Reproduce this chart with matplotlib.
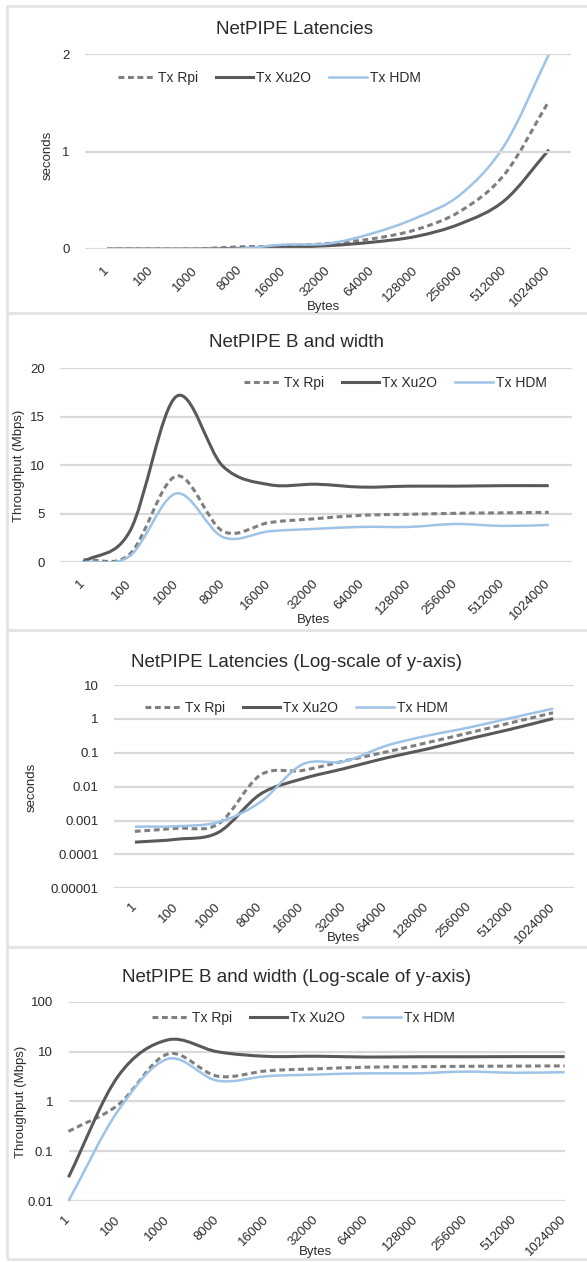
import numpy as np
import matplotlib
matplotlib.use("Agg")
import matplotlib.pyplot as plt
from matplotlib.path import Path
from matplotlib.patches import PathPatch, Rectangle
from matplotlib.lines import Line2D

plt.rcParams['font.family'] = ['Liberation Sans', 'DejaVu Sans']

# message sizes (category axis)
categories = ['1', '100', '1000', '8000', '16000', '32000', '64000',
              '128000', '256000', '512000', '1024000']

# latency in seconds
lat_rpi = [0.00048, 0.00059, 0.0008, 0.022, 0.03, 0.057, 0.105, 0.2, 0.39, 0.77, 1.52]
lat_xu2o = [0.00023, 0.00028, 0.00045, 0.006, 0.017, 0.034, 0.07, 0.13, 0.26, 0.5, 1.02]
lat_hdm = [0.00066, 0.00068, 0.0009, 0.0035, 0.045, 0.055, 0.16, 0.32, 0.56, 1.07, 2.0]

# throughput in Mbps
bw_rpi = [0.25, 0.85, 8.9, 3.2, 4.1, 4.5, 4.85, 4.95, 5.05, 5.1, 5.15]
bw_xu2o = [0.03, 3.2, 17.1, 9.9, 8.0, 8.05, 7.75, 7.85, 7.85, 7.9, 7.9]
bw_hdm = [0.01, 0.65, 7.1, 2.6, 3.2, 3.45, 3.65, 3.65, 3.95, 3.75, 3.85]

series_names = ['Tx Rpi', 'Tx Xu2O', 'Tx HDM']
colors = ['#7f7f7f', '#595959', '#9dc3e6']
widths = [2.2, 2.2, 1.8]
styles = [(0, (1.9, 1.2)), '-', '-']

W, H = 587, 1262
TXT = '#2b2b2b'


def box(l, t, r, b):
    return [l / W, 1 - b / H, (r - l) / W, (b - t) / H]


def smooth_path(ys, logy):
    # Excel-like smoothed line: cubic Bezier through the points (Catmull-Rom tangents)
    x = np.arange(len(ys), dtype=float)
    v = np.log10(ys) if logy else np.asarray(ys, float)
    t = np.empty_like(v)
    t[1:-1] = (v[2:] - v[:-2]) / 2
    t[0] = v[1] - v[0]
    t[-1] = v[-1] - v[-2]
    verts = [(x[0], v[0])]
    codes = [Path.MOVETO]
    for i in range(len(x) - 1):
        verts += [(x[i] + 1 / 3, v[i] + t[i] / 3),
                  (x[i + 1] - 1 / 3, v[i + 1] - t[i + 1] / 3),
                  (x[i + 1], v[i + 1])]
        codes += [Path.CURVE4] * 3
    verts = np.array(verts)
    if logy:
        verts[:, 1] = 10 ** verts[:, 1]
    return Path(verts, codes)


fig = plt.figure(figsize=(W / 100, H / 100), dpi=100)

# panel frames
for top, bot in [(6, 313), (313, 630), (630, 947), (947, 1259)]:
    fig.patches.append(Rectangle((7 / W, 1 - bot / H), 1.2, (bot - top) / H,
                                 transform=fig.transFigure, fill=False,
                                 edgecolor='#e4e4e4', lw=2))

panels = [
    dict(rect=box(85, 54.3, 571, 249), data=[lat_rpi, lat_xu2o, lat_hdm], log=False,
         xlim=(-0.5, 10.5), ylim=(0, 2), yticks=[0, 1, 2], ylabels=['0', '1', '2'],
         title='NetPIPE Latencies', tpos=(295, 30), ylab='seconds', ypos=(48, 155),
         xpos=(324, 307), leg=(269, 78), pad=14, grid_above=True),
    dict(rect=box(60, 368.3, 572, 562.3), data=[bw_rpi, bw_xu2o, bw_hdm], log=False,
         xlim=(-0.5, 10.5), ylim=(0, 20), yticks=[0, 5, 10, 15, 20],
         ylabels=['0', '5', '10', '15', '20'],
         title='NetPIPE B and width', tpos=(297, 342), ylab='Throughput (Mbps)',
         ypos=(19.5, 466), xpos=(313, 620), leg=(395, 383), pad=14, grid_above=False),
    dict(rect=box(114, 685, 574, 888.3), data=[lat_rpi, lat_xu2o, lat_hdm], log=True,
         xlim=(-0.5, 10.5), ylim=(1e-5, 10), yticks=[1e-5, 1e-4, 1e-3, 1e-2, 0.1, 1, 10],
         ylabels=['0.00001', '0.0001', '0.001', '0.01', '0.1', '1', '10'],
         title='NetPIPE Latencies (Log-scale of y-axis)', tpos=(297, 663), ylab='seconds',
         ypos=(32, 787), xpos=(344, 938), leg=(296, 708), pad=12, grid_above=False),
    dict(rect=box(68.5, 1001.7, 564.6, 1201), data=[bw_rpi, bw_xu2o, bw_hdm], log=True,
         xlim=(0, 10), ylim=(0.01, 100), yticks=[0.01, 0.1, 1, 10, 100],
         ylabels=['0.01', '0.1', '1', '10', '100'],
         title='NetPIPE B and width (Log-scale of y-axis)', tpos=(297, 978),
         ylab='Throughput (Mbps)', ypos=(20.6, 1102), xpos=(316, 1252), leg=(303, 1018),
         pad=12, grid_above=False),
]

for p in panels:
    ax = fig.add_axes(p['rect'])
    if p['log']:
        ax.set_yscale('log')
    ax.set_xlim(*p['xlim'])
    ax.set_ylim(*p['ylim'])
    for s in ax.spines.values():
        s.set_visible(False)
    ax.set_yticks(p['yticks'])
    ax.set_yticklabels(p['ylabels'])
    ax.yaxis.set_minor_locator(matplotlib.ticker.NullLocator())
    ax.set_xticks(range(len(categories)))
    ax.set_xticklabels(categories, rotation=45, ha='right', va='center',
                       rotation_mode='anchor')
    ax.tick_params(axis='x', length=0, pad=p['pad'], labelsize=9.5, labelcolor=TXT)
    ax.tick_params(axis='y', length=0, pad=11, labelsize=9.5, labelcolor=TXT)
    ax.grid(axis='y', color='#d9d9d9', lw=1.6)
    ax.set_axisbelow(not p['grid_above'])

    for vals, c, lw, ls in zip(p['data'], colors, widths, styles):
        ax.add_patch(PathPatch(smooth_path(vals, p['log']), fill=False, edgecolor=c,
                               lw=lw, linestyle=ls, zorder=2, clip_on=p['log'] is False,
                               capstyle='butt'))

    handles = [Line2D([], [], color=c, lw=lw, linestyle=ls)
               for c, lw, ls in zip(colors, widths, styles)]
    ax.legend(handles, series_names, loc='center', ncol=3, frameon=False,
              bbox_to_anchor=(p['leg'][0] / W, 1 - p['leg'][1] / H),
              bbox_transform=fig.transFigure, fontsize=10, handlelength=2.7,
              handletextpad=0.2, columnspacing=1.3, labelcolor=TXT)

    fig.text(p['tpos'][0] / W, 1 - p['tpos'][1] / H, p['title'], ha='center',
             va='center', fontsize=13.5, color=TXT)
    fig.text(p['ypos'][0] / W, 1 - p['ypos'][1] / H, p['ylab'], ha='center',
             va='center', rotation=90, fontsize=9.5, color=TXT)
    fig.text(p['xpos'][0] / W, 1 - p['xpos'][1] / H, 'Bytes', ha='center',
             va='center', fontsize=9.5, color=TXT)

fig.savefig('out.png', dpi=100)
